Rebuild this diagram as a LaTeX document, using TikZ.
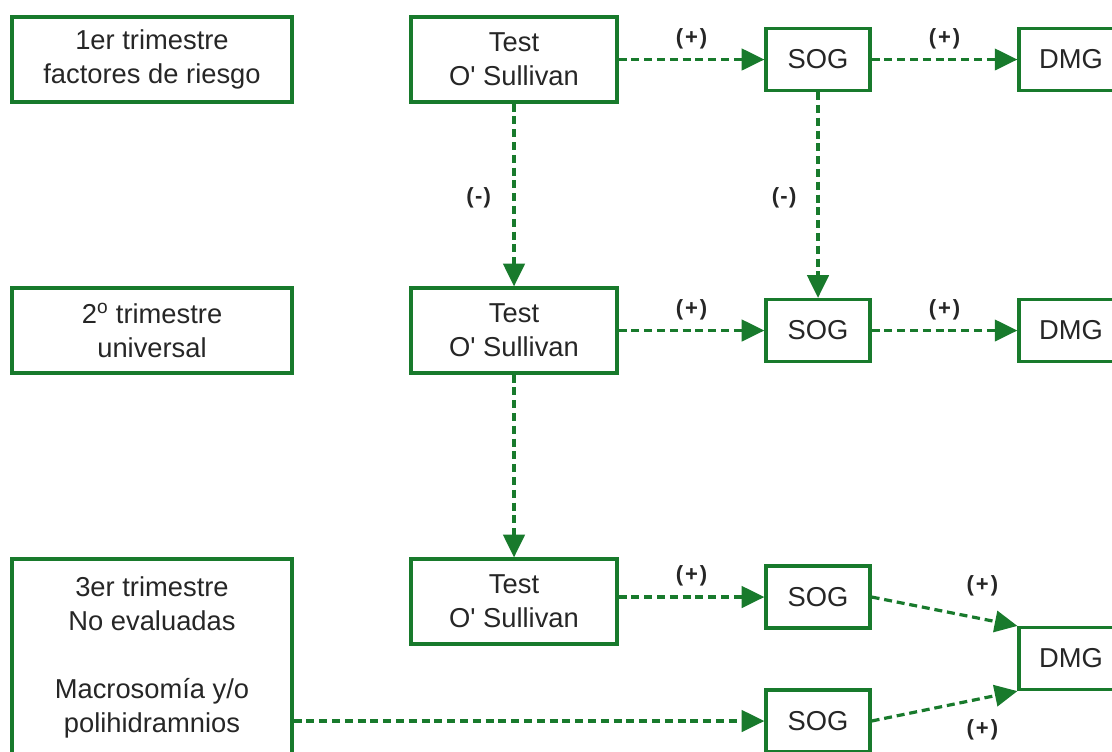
\documentclass[tikz,border=0pt]{standalone}
\usepackage{fontspec}
\setmainfont{Liberation Sans}
\usetikzlibrary{arrows.meta}
\definecolor{dg}{RGB}{24,122,44}
\begin{document}
\begin{tikzpicture}[x=0.75pt,y=-0.75pt,
  box/.style={draw=dg, line width=2.4pt, inner sep=0pt, align=center,
    font=\fontsize{20.5}{25.5}\selectfont, text=black!85},
  wide/.style={box, minimum width=210pt, minimum height=63.75pt},
  test/.style={box, minimum width=154.5pt, minimum height=63.75pt},
  small/.style={box, minimum width=78pt, minimum height=46.5pt},
  conn/.style={draw=dg, line width=2.4pt, dash pattern=on 6pt off 3.6pt,
    -{Triangle[length=17pt,width=16pt]}},
  lab/.style={font=\bfseries\fontsize{16.5}{18}\selectfont, text=black!85, inner sep=1pt}
]
\useasboundingbox (0,0) rectangle (1112,751);
\clip (0,0) rectangle (1112,751);

% left column
\node[wide] (L1) at (152,59.5) {1er trimestre\\factores de riesgo};
\node[wide] (L2) at (152,330.5) {2\textsuperscript{o} trimestre\\universal};
\node[box, minimum width=210pt, minimum height=147.75pt] (L3) at (152,657.5)
  {3er trimestre\\No evaluadas\\[25.5pt]Macrosomía y/o\\polihidramnios};

% test column
\node[test] (T1) at (514,59.5) {Test\\O\textquotesingle{} Sullivan};
\node[test] (T2) at (514,330.5) {Test\\O\textquotesingle{} Sullivan};
\node[test] (T3) at (514,601.5) {Test\\O\textquotesingle{} Sullivan};

% SOG column
\node[small] (S1) at (818,59.5) {SOG};
\node[small] (S2) at (818,330.5) {SOG};
\node[small] (S3) at (818,597) {SOG};
\node[small] (S4) at (818,721) {SOG};

% DMG column
\node[small] (D1) at (1071,59.5) {DMG};
\node[small] (D2) at (1071,330.5) {DMG};
\node[small] (D3) at (1071,658.5) {DMG};

% connectors
\draw[conn] (T1) -- node[lab, midway, above=6pt] {(\kern1.5pt+\kern1.5pt)} (S1);
\draw[conn] (S1) -- node[lab, midway, above=6pt] {(\kern1.5pt+\kern1.5pt)} (D1);
\draw[conn] (T2) -- node[lab, midway, above=6pt] {(\kern1.5pt+\kern1.5pt)} (S2);
\draw[conn] (S2) -- node[lab, midway, above=6pt] {(\kern1.5pt+\kern1.5pt)} (D2);
\draw[conn] (T3.east |- S3.west) -- node[lab, midway, above=6pt] {(\kern1.5pt+\kern1.5pt)} (S3.west);

\draw[conn] (T1) -- node[lab, midway, left=15pt, yshift=-2pt] {(\kern1pt-\kern1pt)} (T2);
\draw[conn] (S1) -- node[lab, midway, left=14pt, yshift=-2pt] {(\kern1pt-\kern1pt)} (S2);
\draw[conn] (T2) -- (T3);

\draw[conn] (S3.east) -- node[lab, pos=0.76, above=15pt] {(\kern1.5pt+\kern1.5pt)} (D3.north west);
\draw[conn] (L3.east |- S4.west) -- (S4.west);
\draw[conn] (S4.east) -- node[lab, pos=0.76, below=14pt] {(\kern1.5pt+\kern1.5pt)} (D3.south west);
\end{tikzpicture}
\end{document}
